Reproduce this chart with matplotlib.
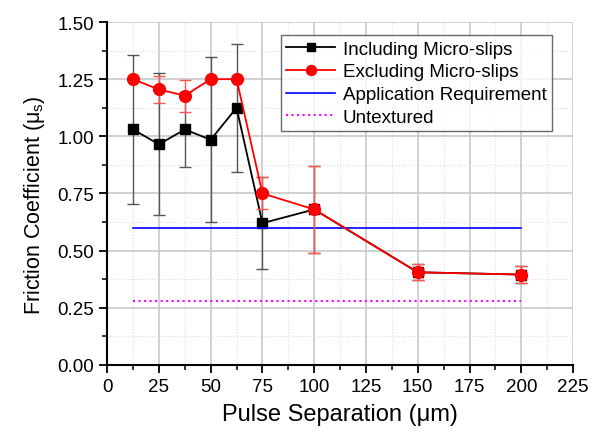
import matplotlib.pyplot as plt
from matplotlib.ticker import MultipleLocator

plt.rcParams['font.family'] = ['Liberation Sans', 'DejaVu Sans']

x = [12.5, 25, 37.5, 50, 62.5, 75, 100, 150, 200]
incl = [1.03, 0.965, 1.03, 0.985, 1.125, 0.62, 0.68, 0.405, 0.395]
incl_err = [0.325, 0.31, 0.165, 0.36, 0.28, 0.2, 0.19, 0.035, 0.037]
excl = [1.25, 1.205, 1.178, 1.25, 1.25, 0.75, 0.68, 0.405, 0.395]
excl_err = [0.0, 0.06, 0.07, 0.0, 0.0, 0.07, 0.19, 0.035, 0.037]
req_x = [12.5, 200]
req = [0.6, 0.6]
untex = [0.28, 0.28]

fig = plt.figure(figsize=(5.92, 4.35), dpi=100)
ax = fig.add_axes([0.181, 0.159, 0.787, 0.788])

ax.errorbar(x, incl, yerr=incl_err, fmt='none', ecolor='#555555', elinewidth=1,
            capsize=4, capthick=1, zorder=2)
ax.plot(x, incl, '-s', color='black', markersize=7, lw=1.3, label='Including Micro-slips', zorder=3)
ax.errorbar(x, excl, yerr=excl_err, fmt='none', ecolor='#ff5555', elinewidth=1,
            capsize=4, capthick=1, zorder=4)
ax.plot(x, excl, '-o', color='red', markersize=8.5, lw=1.3, label='Excluding Micro-slips', zorder=5)
ax.plot(req_x, req, '-', color='blue', lw=1.2, label='Application Requirement', zorder=3)
ax.plot(req_x, untex, ':', color='magenta', lw=1.5, label='Untextured', zorder=3)

ax.set_xlim(0, 225)
ax.set_ylim(0, 1.5)
ax.xaxis.set_major_locator(MultipleLocator(25))
ax.xaxis.set_minor_locator(MultipleLocator(12.5))
ax.yaxis.set_major_locator(MultipleLocator(0.25))
ax.yaxis.set_minor_locator(MultipleLocator(0.125))
ax.yaxis.set_major_formatter('{x:.2f}')
ax.grid(which='major', color='#c8c8c8', lw=1.2)
ax.grid(which='minor', color='#dddddd', lw=0.8, ls=':')
ax.set_axisbelow(True)

for s in ['top', 'right']:
    ax.spines[s].set_visible(False)
for s in ['left', 'bottom']:
    ax.spines[s].set_linewidth(1.5)
ax.tick_params(which='major', direction='out', length=6, width=1.3, labelsize=13.5)
ax.tick_params(which='minor', direction='out', length=3.5, width=1.1)

ax.set_xlabel('Pulse Separation (\u03bcm)', fontsize=17, labelpad=6)
ax.set_ylabel('Friction Coefficient (\u03bc$_\\mathregular{s}$)', fontsize=15.5)
ax.yaxis.set_label_coords(-0.13, 0.47)

leg = ax.legend(loc='upper right', bbox_to_anchor=(0.975, 0.99), fontsize=13.5,
                frameon=True, fancybox=False, edgecolor='#444444',
                handlelength=2.6, handletextpad=0.4, borderpad=0.3,
                labelspacing=0.3, markerscale=0.85)
leg.get_frame().set_linewidth(1.0)

fig.savefig('out.png', dpi=100)
